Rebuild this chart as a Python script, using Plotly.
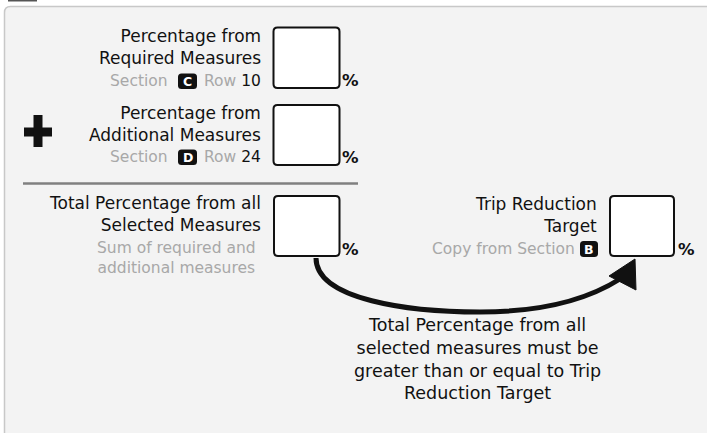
import plotly.graph_objects as go

# ---- content ----
item1_lines = ["Percentage from", "Required Measures"]
item1_section = "C"
item1_row = "10"
item2_lines = ["Percentage from", "Additional Measures"]
item2_section = "D"
item2_row = "24"
total_lines = ["Total Percentage from all", "Selected Measures"]
total_sub = ["Sum of required and", "additional measures"]
target_lines = ["Trip Reduction", "Target"]
target_sub = "Copy from Section"
target_section = "B"
note_lines = ["Total Percentage from all", "selected measures must be",
              "greater than or equal to Trip", "Reduction Target"]
pct = "%"

FONT = "DejaVu Sans"
BLACK = "#111111"
GREY = "#a8a8a8"
LBL = 17
SUB = 15.5

W, H = 707, 433
fig = go.Figure()
shapes = []
ann = []


def rrect(x0, y0, x1, y1, r):
    return (f"M {x0+r},{y0} L {x1-r},{y0} Q {x1},{y0} {x1},{y0+r} "
            f"L {x1},{y1-r} Q {x1},{y1} {x1-r},{y1} L {x0+r},{y1} "
            f"Q {x0},{y1} {x0},{y1-r} L {x0},{y0+r} Q {x0},{y0} {x0+r},{y0} Z")


def text(x, y, s, size=LBL, color=BLACK, anchor="right", bold=False, align=None):
    if bold:
        s = f"<b>{s}</b>"
    ann.append(dict(x=x, y=y, xref="x", yref="y", text=s, showarrow=False,
                    xanchor=anchor, yanchor="middle",
                    align=align or ("center" if anchor == "center" else anchor),
                    font=dict(family=FONT, size=size, color=color)))


def badge(x0, y0, x1, y1, letter):
    shapes.append(dict(type="path", path=rrect(x0, y0, x1, y1, 3.5),
                       fillcolor="#111111", line=dict(width=0), layer="above"))
    text((x0 + x1) / 2, (y0 + y1) / 2 + 0.5, letter, size=12.5, color="white",
         anchor="center", bold=True)


def box(x0, y0, x1, y1):
    shapes.append(dict(type="path", path=rrect(x0, y0, x1, y1, 4),
                       fillcolor="white", line=dict(color=BLACK, width=2)))


# tab and panel
shapes.append(dict(type="rect", x0=8, x1=37, y0=-6, y1=1.5,
                   fillcolor="#555555", line=dict(width=0)))
shapes.append(dict(type="path", path=rrect(4.5, 6.5, 730, 460, 6),
                   fillcolor="#f3f3f3", line=dict(color="#c8c8c8", width=1.5)))

# boxes
box(273.5, 27.5, 339.5, 88)
box(273.5, 105, 339.5, 165)
box(274, 196, 339.5, 256)
box(610, 196, 674, 256)

# percent signs
for (x, y) in [(340, 80), (340, 157), (340, 249), (676, 249)]:
    text(x, y, pct, size=16.5, anchor="left", bold=True)

# divider
shapes.append(dict(type="line", x0=23, x1=358, y0=183.5, y1=183.5,
                   line=dict(color="#808080", width=2.5)))

# plus sign
shapes.append(dict(type="rect", x0=24, x1=52, y0=127.5, y1=136.5,
                   fillcolor=BLACK, line=dict(width=0)))
shapes.append(dict(type="rect", x0=33.5, x1=42.5, y0=115, y1=147,
                   fillcolor=BLACK, line=dict(width=0)))

# item 1
text(263, 46.5, "<br>".join(item1_lines))
text(170, 81, "Section", size=SUB, color=GREY)
badge(178, 73.5, 197, 89, item1_section)
text(202, 81, f"Row <span style='color:{BLACK}'>{item1_row}</span>",
     size=SUB, color=GREY, anchor="left")

# item 2
text(263, 123.5, "<br>".join(item2_lines))
text(170, 157, "Section", size=SUB, color=GREY)
badge(178, 149.5, 197, 165, item2_section)
text(202, 157, f"Row <span style='color:{BLACK}'>{item2_row}</span>",
     size=SUB, color=GREY, anchor="left")

# total
text(263, 214, "<br>".join(total_lines))
text(176, 258, "<br>".join(total_sub), size=SUB, color=GREY, anchor="center")

# target
text(599, 214.5, "<br>".join(target_lines))
text(577, 249, target_sub, size=SUB, color=GREY)
badge(580, 241, 598, 257, target_section)

# arrow
shapes.append(dict(type="path",
                   path="M 316,258 C 316,300 410,312 480,312 C 545,312 590,298 620,279",
                   line=dict(color=BLACK, width=5)))
shapes.append(dict(type="path", path="M 635,259 L 609,276 L 636,290 Z",
                   fillcolor=BLACK, line=dict(color=BLACK, width=1)))

# note
text(477, 358.5, "<br>".join(note_lines), size=17.5, anchor="center")

fig.update_layout(
    width=W, height=H, margin=dict(l=0, r=0, t=0, b=0),
    paper_bgcolor="white", plot_bgcolor="white",
    xaxis=dict(range=[0, W], visible=False, fixedrange=True),
    yaxis=dict(range=[H, 0], visible=False, fixedrange=True),
    shapes=shapes, annotations=ann, showlegend=False,
)
fig.write_html("out.html", config={"displayModeBar": False},
               post_script="document.body.style.margin='0';document.body.style.overflow='hidden';")
